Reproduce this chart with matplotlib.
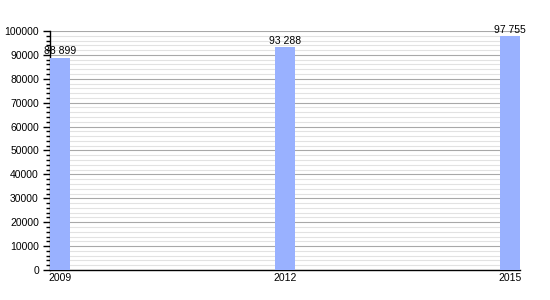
import matplotlib.pyplot as plt
from matplotlib.ticker import MultipleLocator

years = [2009, 2012, 2015]
values = [88899, 93288, 97755]
labels = ["88 899", "93 288", "97 755"]

plt.rcParams['font.family'] = ['Liberation Sans', 'DejaVu Sans']

fig = plt.figure(figsize=(5.5, 3), dpi=100)
ax = fig.add_axes([0.0909, 0.1, 0.8545, 0.7967])

width = 0.267
x = [y + width / 2 for y in years]
ax.bar(x, values, width=width, color='#99b1ff', zorder=3)

for xi, v, lab in zip(x, values, labels):
    ax.text(xi, v + 600, lab, ha='center', va='bottom', fontsize=7.5, zorder=4)

ax.set_xlim(2009, 2015 + width)
ax.set_ylim(0, 100000)

ax.yaxis.set_major_locator(MultipleLocator(10000))
ax.yaxis.set_minor_locator(MultipleLocator(2000))
ax.grid(axis='y', which='major', color='#a8a8a8', linewidth=0.8, zorder=1)
ax.grid(axis='y', which='minor', color='#e2e2e2', linewidth=0.8, zorder=1)

ax.set_xticks(x)
ax.set_xticklabels([str(y) for y in years])
ax.tick_params(axis='x', length=0, labelsize=7.5, pad=2)
ax.tick_params(axis='y', which='major', length=5, width=1, labelsize=7.5, pad=3)
ax.tick_params(axis='y', which='minor', length=3, width=1)

for side in ['top', 'right']:
    ax.spines[side].set_visible(False)
ax.spines['left'].set_linewidth(1)
ax.spines['bottom'].set_linewidth(1)

fig.savefig('out.png', dpi=100)
